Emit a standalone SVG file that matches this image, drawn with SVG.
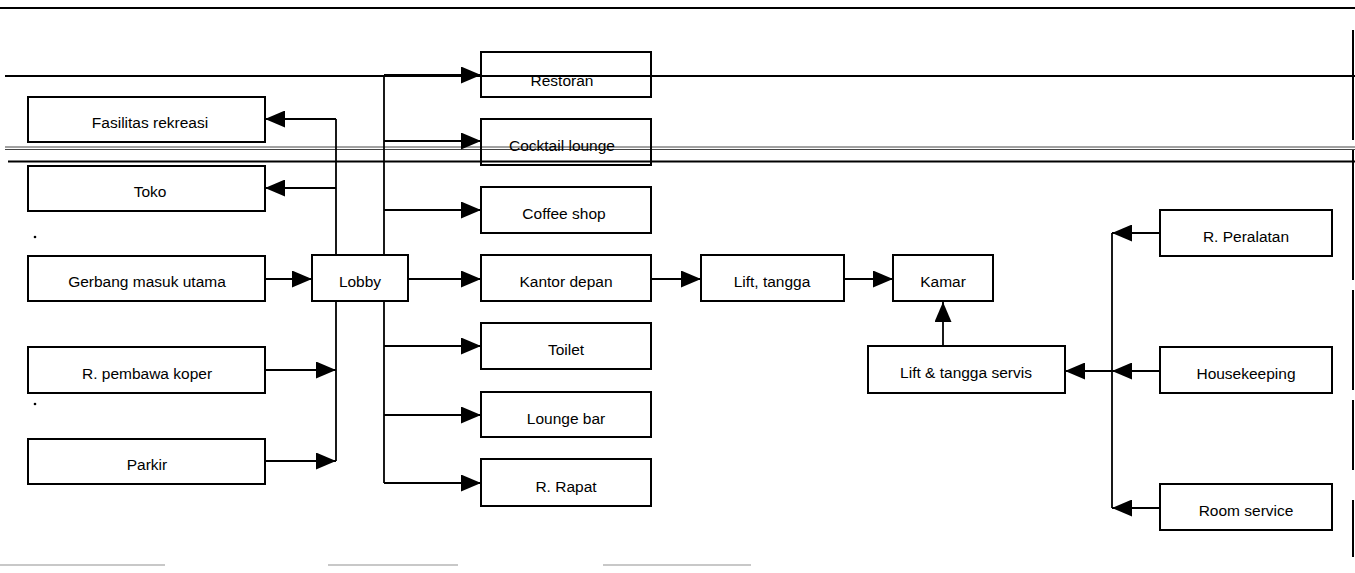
<svg xmlns="http://www.w3.org/2000/svg" width="1355" height="573" viewBox="0 0 1355 573">
<style>
.box{fill:#fff;stroke:#000;stroke-width:2}
.lbl{font-family:"Liberation Sans",Arial,sans-serif;font-size:15.5px;fill:#000;text-anchor:middle}
.c{fill:none;stroke:#000;stroke-width:1.8}
.rule{fill:none;stroke:#000;stroke-width:2}
.thin{fill:none;stroke:#444;stroke-width:1}
.gray{fill:none;stroke:#c8c8c8;stroke-width:2}
</style>
<defs>
<marker id="ah" viewBox="0 0 20 17" markerUnits="userSpaceOnUse" markerWidth="20" markerHeight="17" refX="20" refY="8.5" orient="auto">
<path d="M0,0 L20,8.5 L0,17 z" fill="#000"/>
</marker>
</defs>
<rect width="1355" height="573" fill="#fff"/>
<g id="rules">
<path class="rule" d="M0,8 H1355"/>
<path class="rule" d="M5,76 H1355"/>
<path class="thin" d="M5,147 H1355 M5,149.5 H1355"/>
<path class="rule" d="M8,161.5 H1355"/>
<path class="rule" d="M1353,30 V140 M1353,150 V280 M1353,290 V390 M1353,400 V470 M1353,500 V557"/>
<path class="gray" d="M0,565 H165 M328,565 H458 M603,565 H751"/>
<circle cx="35" cy="237" r="1.3" fill="#000"/>
<circle cx="35" cy="404" r="1.3" fill="#000"/>
</g>
<g id="connectors">
<path class="c" d="M336,119 V461"/>
<path class="c" d="M336,119 H265" marker-end="url(#ah)"/>
<path class="c" d="M336,188 H265" marker-end="url(#ah)"/>
<path class="c" d="M265,279 H312" marker-end="url(#ah)"/>
<path class="c" d="M265,370 H336" marker-end="url(#ah)"/>
<path class="c" d="M265,461 H336" marker-end="url(#ah)"/>
<path class="c" d="M384,75 V483"/>
<path class="c" d="M384,75 H481" marker-end="url(#ah)"/>
<path class="c" d="M384,141 H481" marker-end="url(#ah)"/>
<path class="c" d="M384,210 H481" marker-end="url(#ah)"/>
<path class="c" d="M408,279 H481" marker-end="url(#ah)"/>
<path class="c" d="M384,346 H481" marker-end="url(#ah)"/>
<path class="c" d="M384,415 H481" marker-end="url(#ah)"/>
<path class="c" d="M384,483 H481" marker-end="url(#ah)"/>
<path class="c" d="M651,279 H701" marker-end="url(#ah)"/>
<path class="c" d="M844,279 H893" marker-end="url(#ah)"/>
<path class="c" d="M943,346 V302" marker-end="url(#ah)"/>
<path class="c" d="M1112,233 V508"/>
<path class="c" d="M1160,233 H1112" marker-end="url(#ah)"/>
<path class="c" d="M1160,371 H1112" marker-end="url(#ah)"/>
<path class="c" d="M1160,508 H1112" marker-end="url(#ah)"/>
<path class="c" d="M1112,371 H1065" marker-end="url(#ah)"/>
</g>
<g id="n-fasilitas"><rect class="box" x="28" y="97" width="237" height="45"/><text class="lbl" x="150" y="128">Fasilitas rekreasi</text></g>
<g id="n-toko"><rect class="box" x="28" y="166" width="237" height="45"/><text class="lbl" x="150" y="197">Toko</text></g>
<g id="n-gerbang"><rect class="box" x="28" y="256" width="237" height="45"/><text class="lbl" x="147" y="287">Gerbang masuk utama</text></g>
<g id="n-koper"><rect class="box" x="28" y="347" width="237" height="46"/><text class="lbl" x="147" y="379">R. pembawa koper</text></g>
<g id="n-parkir"><rect class="box" x="28" y="439" width="237" height="45"/><text class="lbl" x="147" y="470">Parkir</text></g>
<g id="n-lobby"><rect class="box" x="312" y="255" width="96" height="46"/><text class="lbl" x="360" y="287">Lobby</text></g>
<g id="n-restoran"><rect class="box" x="481" y="52" width="170" height="45" style="fill:none"/><text class="lbl" x="562" y="86">Restoran</text></g>
<g id="n-cocktail"><rect class="box" x="481" y="119" width="170" height="46" style="fill:none"/><text class="lbl" x="562" y="151">Cocktail lounge</text></g>
<g id="n-coffee"><rect class="box" x="481" y="187" width="170" height="46"/><text class="lbl" x="564" y="219">Coffee shop</text></g>
<g id="n-kantor"><rect class="box" x="481" y="255" width="170" height="46"/><text class="lbl" x="566" y="287">Kantor depan</text></g>
<g id="n-toilet"><rect class="box" x="481" y="323" width="170" height="46"/><text class="lbl" x="566" y="355">Toilet</text></g>
<g id="n-lounge"><rect class="box" x="481" y="392" width="170" height="45"/><text class="lbl" x="566" y="424">Lounge bar</text></g>
<g id="n-rapat"><rect class="box" x="481" y="459" width="170" height="47"/><text class="lbl" x="566" y="492">R. Rapat</text></g>
<g id="n-lift"><rect class="box" x="701" y="255" width="143" height="46"/><text class="lbl" x="772" y="287">Lift, tangga</text></g>
<g id="n-kamar"><rect class="box" x="893" y="255" width="100" height="46"/><text class="lbl" x="943" y="287">Kamar</text></g>
<g id="n-servis"><rect class="box" x="868" y="346" width="197" height="47"/><text class="lbl" x="966" y="378">Lift &amp; tangga servis</text></g>
<g id="n-peralatan"><rect class="box" x="1160" y="210" width="172" height="46"/><text class="lbl" x="1246" y="242">R. Peralatan</text></g>
<g id="n-housekeeping"><rect class="box" x="1160" y="347" width="172" height="46"/><text class="lbl" x="1246" y="379">Housekeeping</text></g>
<g id="n-roomservice"><rect class="box" x="1160" y="484" width="172" height="46"/><text class="lbl" x="1246" y="516">Room service</text></g>
</svg>
